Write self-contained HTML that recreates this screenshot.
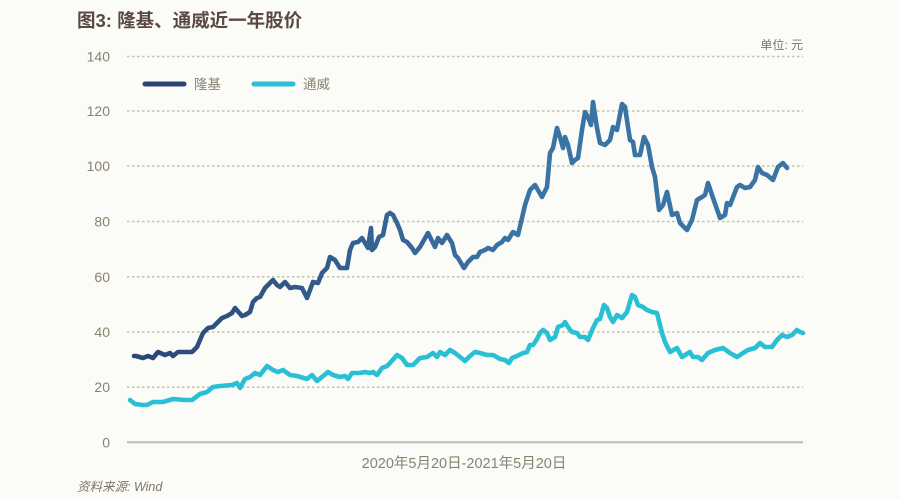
<!DOCTYPE html>
<html><head><meta charset="utf-8"><style>
html,body{margin:0;padding:0;background:#fbfbf8;}
body{width:900px;height:499px;overflow:hidden;position:relative;}
svg{position:absolute;left:0;top:0;}
</style></head><body>
<svg width="900" height="499" viewBox="0 0 900 499" xmlns="http://www.w3.org/2000/svg">
<defs>
<linearGradient id="gd" gradientUnits="userSpaceOnUse" x1="130" y1="0" x2="520" y2="0">
<stop offset="0" stop-color="#2b4574"/>
<stop offset="1" stop-color="#3a74a5"/>
</linearGradient>
</defs>
<rect width="900" height="499" fill="#fbfbf8"/>
<text x="77" y="27" font-family="Liberation Sans, Noto Sans CJK SC, sans-serif" font-size="18.5" font-weight="bold" fill="#5a4940">图3: 隆基、通威近一年股价</text>
<text x="803" y="49" text-anchor="end" font-family="Liberation Sans, Noto Sans CJK SC, sans-serif" font-size="12" fill="#7d7566">单位: 元</text>
<g stroke="#c6c3ab" stroke-width="1.6" stroke-dasharray="2.5 2.5">
<line x1="127" y1="56.5" x2="803" y2="56.5"/>
<line x1="127" y1="111" x2="803" y2="111"/>
<line x1="127" y1="166" x2="803" y2="166"/>
<line x1="127" y1="221.5" x2="803" y2="221.5"/>
<line x1="127" y1="276.8" x2="803" y2="276.8"/>
<line x1="127" y1="332" x2="803" y2="332"/>
<line x1="127" y1="387.2" x2="803" y2="387.2"/>
</g>
<line x1="127" y1="442.3" x2="803" y2="442.3" stroke="#bfbba6" stroke-width="2"/>
<g font-family="Liberation Sans, sans-serif" font-size="14" fill="#8a8271" text-anchor="end">
<text x="110" y="61.5">140</text>
<text x="110" y="116">120</text>
<text x="110" y="171">100</text>
<text x="110" y="226.5">80</text>
<text x="110" y="281.8">60</text>
<text x="110" y="337">40</text>
<text x="110" y="392.2">20</text>
<text x="110" y="447.3">0</text>
</g>
<line x1="145" y1="84" x2="184" y2="84" stroke="#2b4574" stroke-width="5" stroke-linecap="round"/>
<text x="194" y="89" font-family="Liberation Sans, Noto Sans CJK SC, sans-serif" font-size="13.5" fill="#8a8271">隆基</text>
<line x1="254" y1="84" x2="293" y2="84" stroke="#29bfd4" stroke-width="5" stroke-linecap="round"/>
<text x="303" y="89" font-family="Liberation Sans, Noto Sans CJK SC, sans-serif" font-size="13.5" fill="#8a8271">通威</text>
<polyline fill="none" stroke="url(#gd)" stroke-width="4.6" stroke-linejoin="round" stroke-linecap="round" points="134,356 136,356 143,358 148,356 153,358 158,352 165,355 170,353 173,356 178,352 192,352 197,347 203,333 208,328 213,327 218,322 222,318 227,316 232,313 235,308 242,316 245,315 250,312 253,302 257,298 260,297 265,288 268,285 273,280 277,285 280,287 285,282 290,288 295,287 302,288 307,298 310,290 313,282 318,283 322,273 327,268 330,257 335,260 340,268 347,268 350,250 353,243 358,242 362,238 365,243 368,248 371,228 372,250 375,247 379,237 383,235 387,215 390,213 393,215 397,223 400,230 403,240 407,242 412,248 415,253 420,247 428,233 435,247 438,238 442,243 447,235 452,243 455,255 458,258 464,268 468,262 473,257 477,257 480,252 485,250 488,248 493,250 497,245 502,242 505,238 508,240 513,232 518,235 522,218 525,205 530,190 535,185 542,197 547,187 550,153 553,148 557,128 560,137 563,148 565,137 568,145 572,163 575,160 578,158 582,130 585,112 588,117 591,125 593,102 597,128 600,143 605,145 610,140 613,127 617,130 622,104 625,107 630,140 633,142 635,155 640,155 644,137 648,145 652,167 655,177 659,210 663,205 667,192 672,215 677,213 680,223 687,230 692,220 697,200 702,197 705,195 708,183 712,195 720,218 725,215 727,203 730,205 737,187 740,185 745,188 750,187 755,180 758,167 762,173 767,175 773,180 778,167 783,163 787,168"/>
<polyline fill="none" stroke="#29bfd4" stroke-width="4.6" stroke-linejoin="round" stroke-linecap="round" points="130,400 135,404 143,405 147,405 153,402 163,402 173,399 185,400 192,400 200,394 207,392 213,387 220,386 232,385 237,383 240,388 245,379 250,377 255,373 260,375 267,366 273,370 278,372 283,370 290,375 297,376 307,379 312,375 317,381 322,377 328,372 333,375 340,377 345,376 348,379 352,373 360,373 365,372 370,373 373,372 377,375 382,368 387,366 390,363 397,355 402,358 407,365 413,365 420,358 427,357 433,353 437,357 440,352 445,355 450,350 455,353 460,357 465,361 470,356 475,352 480,353 487,355 493,355 500,359 505,360 509,363 512,358 517,356 523,353 527,352 530,345 533,345 537,339 540,333 543,330 547,333 550,340 555,337 558,327 563,325 565,322 568,327 572,332 577,333 580,337 585,337 588,340 593,328 597,320 600,319 604,305 607,308 610,317 613,322 617,315 622,318 627,312 632,295 635,297 638,305 643,307 647,310 652,312 657,313 662,333 665,342 670,352 677,348 682,357 690,352 693,357 698,357 702,360 708,353 715,350 723,348 730,353 737,357 743,353 748,350 755,348 760,343 765,347 772,347 777,340 782,335 787,337 792,335 797,330 800,332 803,333"/>
<text x="464" y="468" text-anchor="middle" font-family="Liberation Sans, Noto Sans CJK SC, sans-serif" font-size="14.5" fill="#8a8271">2020年5月20日-2021年5月20日</text>
<text x="77" y="491" font-family="Liberation Sans, Noto Sans CJK SC, sans-serif" font-size="12.5" font-style="italic" fill="#7d7566">资料来源: Wind</text>
</svg>
</body></html>
